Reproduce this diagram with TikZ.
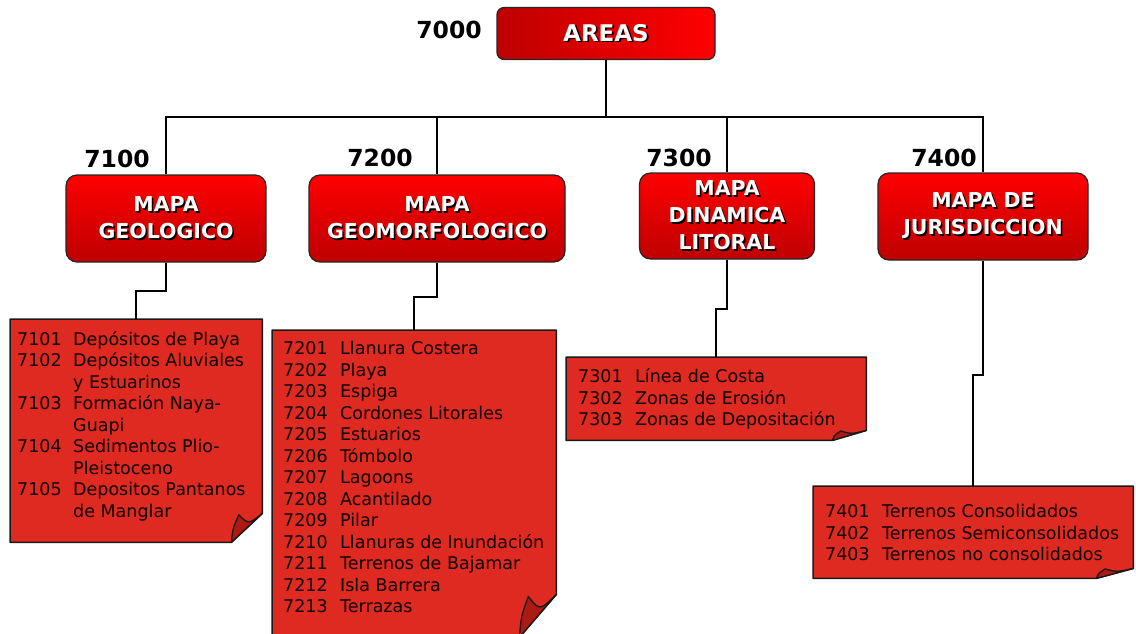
\documentclass[tikz,border=0pt]{standalone}
\usepackage{fontspec}
\setmainfont{DejaVu Sans}

\definecolor{notered}{RGB}{222,42,32}
\definecolor{flapred}{RGB}{172,26,20}
\definecolor{boxtop}{RGB}{255,0,0}
\definecolor{boxbot}{RGB}{190,0,0}

% white text with a dark drop shadow
\newcommand\shtxt[1]{\makebox[0pt][l]{\hspace{1.6pt}\raisebox{-1.6pt}{\color{black}#1}}#1}

% note with a curled corner: node, fold width, fold height
\newcommand\foldnote[3]{%
  \draw[notebody] (#1.north west) -- (#1.north east) -- ([yshift=#3]#1.south east)
    -- ([xshift=-#2]#1.south east) -- (#1.south west) -- cycle;
  \draw[flap] ([xshift=-#2]#1.south east)
    .. controls ([xshift=-0.95*#2, yshift=0.5*#3]#1.south east) .. ([xshift=-0.76*#2, yshift=0.95*#3]#1.south east)
    .. controls ([xshift=-0.45*#2, yshift=0.62*#3]#1.south east) .. ([yshift=#3]#1.south east) -- cycle;
}

\tikzset{
  mapbox/.style={draw=black!85, line width=1.2pt, rounded corners=11pt,
    top color=boxtop, bottom color=boxbot, text=white, align=center,
    minimum height=87pt, font=\fontsize{20.5}{27}\selectfont\bfseries},
  code/.style={inner sep=0pt, font=\fontsize{23.5}{27}\selectfont\bfseries},
  note/.style={inner sep=0pt, anchor=north west},
  notebody/.style={fill=notered, draw=black!90, line width=1.5pt, line join=round},
  flap/.style={fill=flapred, draw=black!90, line width=1.3pt, line join=round},
  list/.style={inner sep=0pt, anchor=north west, text=black!95!red,
    font=\fontsize{17.5}{21.5}\selectfont},
  wire/.style={line width=2pt}
}

\begin{document}
\begin{tikzpicture}[x=1pt, y=-1pt]
  \useasboundingbox (0,0) rectangle (1136,633);
  \clip (0,0) rectangle (1136,633);

  \node[mapbox, minimum width=218pt, minimum height=52pt, rounded corners=7pt,
    shading angle=90, left color=boxbot, right color=boxtop,
    font=\fontsize{23}{27}\selectfont\bfseries] (b0) at (606,33.5) {\shtxt{AREAS}};
  \node[code] (k0) at (449,30) {7000};

  \node[mapbox, minimum width=200pt] (b1) at (166,218.5) {\shtxt{MAPA}\\\shtxt{GEOLOGICO}};
  \node[mapbox, minimum width=256pt] (b2) at (437,218.5) {\shtxt{MAPA}\\\shtxt{GEOMORFOLOGICO}};
  \node[mapbox, minimum width=175pt, minimum height=86pt] (b3) at (727,216)
    {\shtxt{MAPA}\\\shtxt{DINAMICA}\\\shtxt{LITORAL}};
  \node[mapbox, minimum width=210pt] (b4) at (983,216.5) {\shtxt{MAPA DE}\\\shtxt{JURISDICCION}};

  \node[code] (k1) at (117,159) {7100};
  \node[code] (k2) at (380,158) {7200};
  \node[code] (k3) at (679,158) {7300};
  \node[code] (k4) at (944,158) {7400};

  \node[note, minimum width=252pt, minimum height=223pt] (n1) at (10,319) {};
  \node[note, minimum width=284pt, minimum height=307pt] (n2) at (272,330) {};
  \node[note, minimum width=300pt, minimum height=83pt] (n3) at (566,357) {};
  \node[note, minimum width=320pt, minimum height=92pt] (n4) at (813,486) {};
  \foldnote{n1}{31pt}{29pt}
  \foldnote{n2}{37pt}{43pt}
  \foldnote{n3}{34pt}{10pt}
  \foldnote{n4}{37pt}{10pt}

  \node[list] (l1) at (17,330) {\begin{tabular}{@{}p{56pt}@{}l@{}}
    7101 & Depósitos de Playa\\
    7102 & Depósitos Aluviales\\
         & y Estuarinos\\
    7103 & Formación Naya-\\
         & Guapi\\
    7104 & Sedimentos Plio-\\
         & Pleistoceno\\
    7105 & Depositos Pantanos\\
         & de Manglar
  \end{tabular}};
  \node[list] (l2) at (283,339.5) {\begin{tabular}{@{}p{57pt}@{}l@{}}
    7201 & Llanura Costera\\
    7202 & Playa\\
    7203 & Espiga\\
    7204 & Cordones Litorales\\
    7205 & Estuarios\\
    7206 & Tómbolo\\
    7207 & Lagoons\\
    7208 & Acantilado\\
    7209 & Pilar\\
    7210 & Llanuras de Inundación\\
    7211 & Terrenos de Bajamar\\
    7212 & Isla Barrera\\
    7213 & Terrazas
  \end{tabular}};
  \node[list] (l3) at (578,367.5) {\begin{tabular}{@{}p{57pt}@{}l@{}}
    7301 & Línea de Costa\\
    7302 & Zonas de Erosión\\
    7303 & Zonas de Depositación
  \end{tabular}};
  \node[list] (l4) at (825,502.5) {\begin{tabular}{@{}p{57pt}@{}l@{}}
    7401 & Terrenos Consolidados\\
    7402 & Terrenos Semiconsolidados\\
    7403 & Terrenos no consolidados
  \end{tabular}};

  \coordinate (bus) at (0,117);
  \foreach \i in {1,...,4}
    \draw[wire] (b0.south) -- (b0.south |- bus) -| (b\i.north);
  \draw[wire] (b1.south) -- ++(0,28) -| (n1.north);
  \draw[wire] (b2.south) -- ++(0,34) -| (n2.north);
  \draw[wire] (b3.south) -- ++(0,49) -| (n3.north);
  \draw[wire] (b4.south) -- ++(0,114) -| (n4.north);
\end{tikzpicture}
\end{document}
